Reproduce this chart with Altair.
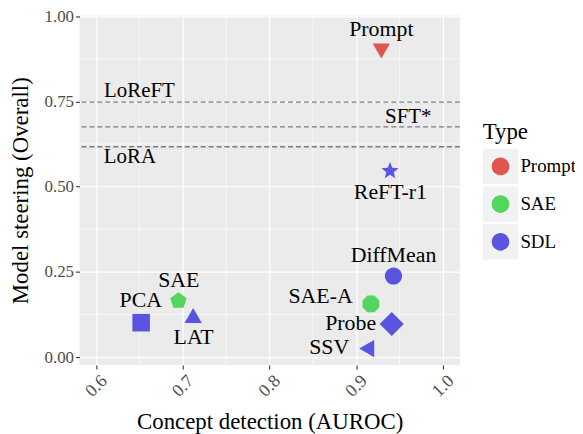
import math
import altair as alt
import pandas as pd

# ---------------- data ----------------
methods = ["Prompt", "ReFT-r1", "DiffMean", "SAE-A", "Probe", "SSV", "PCA", "SAE", "LAT"]
types = ["Prompt", "SDL", "SDL", "SAE", "SDL", "SDL", "SDL", "SAE", "SDL"]
auroc = [0.929, 0.939, 0.943, 0.917, 0.941, 0.915, 0.652, 0.695, 0.712]
steering = [0.905, 0.546, 0.238, 0.156, 0.097, 0.025, 0.101, 0.165, 0.115]
label_x = [0.929, 0.9395, 0.943, 0.896, 0.923, 0.892, 0.676, 0.6954, 0.7125]
label_y = [0.943, 0.465, 0.278, 0.160, 0.081, 0.008, 0.148, 0.206, 0.040]
label_align = ["center", "center", "center", "right", "right", "right", "right", "center", "center"]

baseline_names = ["LoReFT", "SFT*", "LoRA"]
baseline_values = [0.748, 0.675, 0.617]
baseline_label_x = [0.650, 0.960, 0.639]
baseline_label_y = [0.763, 0.687, 0.568]

type_names = ["Prompt", "SAE", "SDL"]
type_colors = ["#E0564F", "#52D65C", "#5A55E0"]

x_ticks = [0.6, 0.7, 0.8, 0.9, 1.0]
y_ticks = [0.0, 0.25, 0.5, 0.75, 1.0]
x_minor = [0.65, 0.75, 0.85, 0.95]
y_minor = [0.125, 0.375, 0.625, 0.875]


# ---------------- marker shapes (style) ----------------
def regular(n, r, start_deg, inner=None):
    pts = []
    step = 360.0 / n
    for k in range(n):
        a = math.radians(start_deg + k * step)
        pts.append((r * math.cos(a), r * math.sin(a)))
        if inner is not None:
            b = math.radians(start_deg + k * step + step / 2)
            pts.append((inner * math.cos(b), inner * math.sin(b)))
    return "M" + "L".join(f"{x:.3f},{y:.3f}" for x, y in pts) + "Z"


circle_path = "M1,0A1,1 0 1,1 -1,0A1,1 0 1,1 1,0Z"
shape_map = {
    "Prompt": regular(3, 1.16, 90),
    "ReFT-r1": regular(5, 1.05, -90, inner=0.45),
    "DiffMean": circle_path,
    "SAE-A": regular(8, 1.05, 22.5),
    "Probe": "M0,-1.4L1.4,0L0,1.4L-1.4,0Z",
    "SSV": regular(3, 1.16, 180),
    "PCA": "M-1.02,-1.02L1.02,-1.02L1.02,1.02L-1.02,1.02Z",
    "SAE": regular(5, 1.0, -90),
    "LAT": regular(3, 1.16, -90),
}
shape_paths = [shape_map[m] for m in methods]
legend_circle = "M-1,-1L-1,-1M1,1L1,1M0.5,0A0.5,0.5 0 1,1 -0.5,0A0.5,0.5 0 1,1 0.5,0Z"

df = pd.DataFrame(dict(method=methods, type=types, auroc=auroc, steering=steering,
                       label_x=label_x, label_y=label_y, label_align=label_align))
base_df = pd.DataFrame(dict(name=baseline_names, value=baseline_values,
                            lx=baseline_label_x, ly=baseline_label_y))

FONT = "Liberation Serif"
xscale = alt.Scale(domain=[0.5809, 1.0195], nice=False, zero=False)
yscale = alt.Scale(domain=[-0.023, 1.002], nice=False, zero=False)

xaxis = alt.Axis(values=x_ticks, format=".1f", labelAngle=315, labelAlign="center",
                 labelBaseline="middle", labelPadding=17, labelFontSize=18, labelColor="#4D4D4D",
                 labelFont=FONT, labelFlush=False, labelOverlap=False, tickSize=4,
                 tickColor="#333333", tickWidth=1.1, domain=False, grid=True, gridColor="white",
                 gridWidth=1.2, title="Concept detection (AUROC)", titleFont=FONT, titleFontSize=23,
                 titleFontWeight="normal", titleColor="black", titlePadding=11)
yaxis = alt.Axis(values=y_ticks, format=".2f", labelFontSize=17, labelColor="#4D4D4D",
                 labelFont=FONT, labelPadding=2, labelFlush=False, labelOverlap=False, tickSize=4,
                 tickColor="#333333", tickWidth=1.1, domain=False, grid=True, gridColor="white",
                 gridWidth=1.2, title="Model steering (Overall)", titleFont=FONT, titleFontSize=23,
                 titleFontWeight="normal", titleColor="black", titlePadding=12)

legend_common = dict(orient="none", legendX=406, legendY=106, padding=0, title="Type",
                     titleFontSize=23, titleFontWeight="normal", titlePadding=5,
                     labelFontSize=19, labelOffset=2, rowPadding=2, symbolSize=1260,
                     symbolStrokeWidth=0, titleFont=FONT, labelFont=FONT)
color_legend = alt.Legend(symbolType=legend_circle, zindex=1, titleColor="black",
                          labelColor="black", **legend_common)
bg_legend = alt.Legend(symbolType="square", symbolFillColor="#F2F2F2", zindex=0,
                       titleColor="transparent", labelColor="transparent", **legend_common)

minor_v = alt.Chart(pd.DataFrame({"v": x_minor})).mark_rule(color="white", strokeWidth=0.6).encode(
    x=alt.X("v:Q", scale=xscale, axis=xaxis))
minor_h = alt.Chart(pd.DataFrame({"v": y_minor})).mark_rule(color="white", strokeWidth=0.6).encode(
    y=alt.Y("v:Q", scale=yscale, axis=yaxis))

base_rules = alt.Chart(base_df).mark_rule(color="#7A7A7A", strokeWidth=1.3, strokeDash=[5, 3]).encode(
    y=alt.Y("value:Q", scale=yscale, axis=yaxis))
base_text = alt.Chart(base_df).mark_text(font=FONT, fontSize=21, color="black", align="center",
                                         baseline="alphabetic").encode(
    x=alt.X("lx:Q", scale=xscale, axis=xaxis),
    y=alt.Y("ly:Q", scale=yscale, axis=yaxis),
    text="name:N")

points = alt.Chart(df).transform_calculate(type_bg="datum.type").mark_point(
    filled=True, size=300, strokeWidth=0, opacity=1).encode(
    x=alt.X("auroc:Q", scale=xscale, axis=xaxis),
    y=alt.Y("steering:Q", scale=yscale, axis=yaxis),
    color=alt.Color("type:N", scale=alt.Scale(domain=type_names, range=type_colors), legend=color_legend),
    shape=alt.Shape("method:N", scale=alt.Scale(domain=methods, range=shape_paths), legend=None),
    opacity=alt.Opacity("type_bg:N", scale=alt.Scale(range=[1, 1]), legend=bg_legend),
)

def label_layer(align):
    return alt.Chart(df).transform_filter(alt.datum.label_align == align).mark_text(
        font=FONT, fontSize=22, color="black", align=align, baseline="alphabetic").encode(
        x=alt.X("label_x:Q", scale=xscale, axis=xaxis),
        y=alt.Y("label_y:Q", scale=yscale, axis=yaxis),
        text="method:N")

chart = alt.layer(minor_v, minor_h, base_rules, base_text, points,
                  label_layer("center"), label_layer("right")).properties(
    width=383, height=352,
    autosize=alt.AutoSizeParams(type="none"),
    padding={"left": 72, "top": 6, "right": 116, "bottom": 68},
    background="white",
).configure(font=FONT).configure_view(fill="#EBEBEB", strokeWidth=0)

chart.save("out.html", embed_options={"renderer": "svg", "actions": False})
